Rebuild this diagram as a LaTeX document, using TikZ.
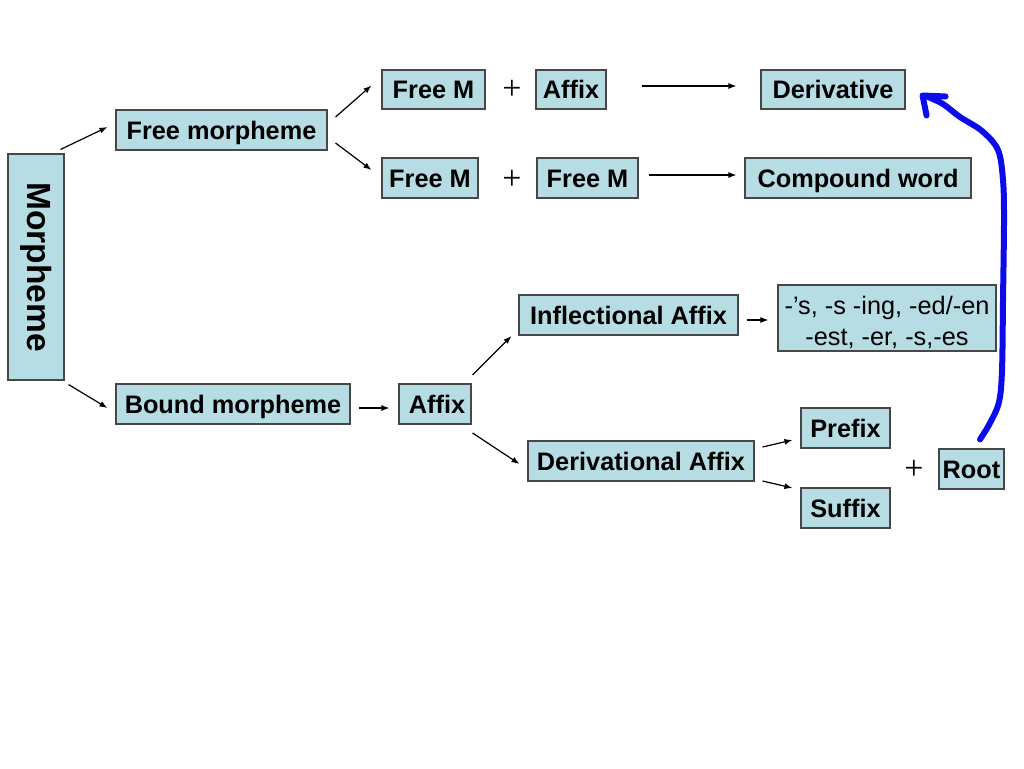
\documentclass[tikz,border=0pt]{standalone}
\usepackage{fontspec}
\setmainfont{Liberation Sans}
\newfontfamily\plusfont{Liberation Serif}
\usetikzlibrary{arrows.meta,calc}
\definecolor{boxblue}{RGB}{183,221,228}
\definecolor{penblue}{RGB}{12,12,235}
\begin{document}
\begin{tikzpicture}[x=1pt,y=-1pt,
  box/.style={draw=black!72,line width=1.1pt,fill=boxblue,inner sep=0pt,
    text height=18.2pt,text depth=0pt,
    font=\fontsize{25.3}{30}\selectfont\bfseries},
  plain/.style={draw=black!72,line width=1.1pt,fill=boxblue,inner sep=0pt},
  plaintext/.style={inner sep=0pt,align=center,font=\fontsize{25.3}{31}\selectfont},
  arr/.style={line width=1.2pt,-{Latex[length=8pt,width=6pt]}},
  plus/.style={inner sep=0pt,font=\fontsize{34}{34}\selectfont\plusfont},
  pen/.style={penblue,line width=6pt,line cap=round,line join=round}]
\useasboundingbox (0,0) rectangle (1024,768);
\fill[white] (0,0) rectangle (1024,768);
% nodes
\node[box,minimum width=56pt,minimum height=226pt,text height=,text depth=,font=\fontsize{33.5}{34}\selectfont\bfseries] (morph) at (36,267) {\rotatebox{-90}{Morpheme}};
\node[box,minimum width=211pt,minimum height=40pt] (freem) at (221.5,130) {Free morpheme};
\node[box,minimum width=103pt,minimum height=39pt] (fm1) at (433.5,89.5) {Free M};
\node[plus] (p1) at (512,90) {+};
\node[box,minimum width=70pt,minimum height=39pt] (affix1) at (571,89.5) {Affix};
\node[box,minimum width=144pt,minimum height=39pt] (deriv) at (833,89.5) {Derivative};
\node[box,minimum width=96pt,minimum height=40pt] (fm2) at (430,178) {Free M};
\node[plus] (p2) at (512,180) {+};
\node[box,minimum width=101pt,minimum height=40pt] (fm3) at (587.5,178) {Free M};
\node[box,minimum width=226pt,minimum height=40pt] (compound) at (858,178) {Compound word};
\node[box,minimum width=219pt,minimum height=40pt] (infl) at (628.5,315) {Inflectional Affix\hspace{8pt}};
\node[plain,minimum width=218pt,minimum height=66pt] (list) at (887,318) {};
\node[plaintext] (listtext) at ([shift={(0,4)}]list.center) {-’s, -s -ing, -ed/-en\\-est, -er, -s,-es};
\node[box,minimum width=234pt,minimum height=40pt] (bound) at (233,404) {Bound morpheme};
\node[box,minimum width=72pt,minimum height=40pt] (affix2) at (435,404) {\hspace{4pt}Affix};
\node[box,minimum width=226pt,minimum height=40pt] (derivA) at (641,461) {Derivational Affix};
\node[box,minimum width=89pt,minimum height=40pt] (prefix) at (845.5,428) {Prefix};
\node[box,minimum width=89pt,minimum height=40pt] (suffix) at (845.5,508) {Suffix};
\node[plus] (p3) at (914,470) {+};
\node[box,minimum width=65pt,minimum height=40pt] (root) at (971.5,469) {Root};
% connectors
\draw[arr] ([shift={(-4,-4)}]morph.north east) -- ([shift={(-8,-3)}]freem.west);
\draw[arr] ([shift={(4,4)}]morph.south east) -- ([shift={(-8,4)}]bound.west);
\draw[arr] ([shift={(8,-13)}]freem.east) -- ([shift={(-10,-4)}]fm1.west);
\draw[arr] ([shift={(8,13)}]freem.east) -- ([shift={(-10,-8)}]fm2.west);
\draw[arr] ([shift={(35,-3.5)}]affix1.east) -- ([shift={(-24,-3.5)}]deriv.west);
\draw[arr] ([shift={(10,-3)}]fm3.east) -- ([shift={(-8,-3)}]compound.west);
\draw[arr] ([shift={(8,4)}]bound.east) -- ([shift={(-9,4)}]affix2.west);
\draw[arr] ([shift={(1,-29)}]affix2.east) -- ([shift={(-7,21)}]infl.west);
\draw[arr] ([shift={(1,29)}]affix2.east) -- ([shift={(-8,3)}]derivA.west);
\draw[arr] ([shift={(8,5)}]infl.east) -- ([shift={(-9,2)}]list.west);
\draw[arr] ([shift={(8,-14)}]derivA.east) -- ([shift={(-8,12)}]prefix.west);
\draw[arr] ([shift={(8,20)}]derivA.east) -- ([shift={(-8,-20)}]suffix.west);
% hand-drawn blue arrow
\coordinate (bstart) at ([shift={(8.5,-9)}]root.north);
\coordinate (btip) at ([shift={(17,6)}]deriv.east);
\draw[pen] plot[smooth,tension=0.55] coordinates {(bstart) (990,423) (999,402) (1002,370) (1003,300) (1004,220) (1003,180) (998,150) (982,131) (960,117) (943,104) (928,97)};
\draw[pen] ([shift={(4,20)}]btip) -- (btip) -- ([shift={(23,1)}]btip);
\end{tikzpicture}
\end{document}
